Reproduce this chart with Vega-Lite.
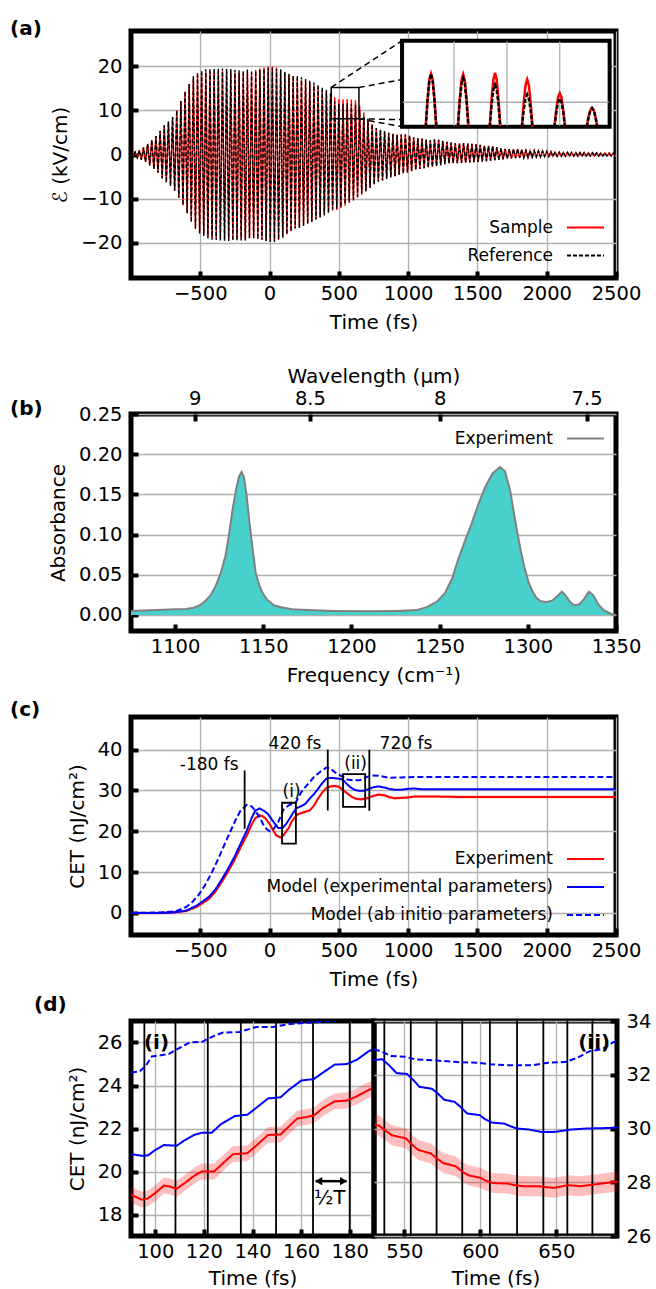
{
  "$schema": "https://vega.github.io/schema/vega-lite/v6.json",
  "padding": {"left": 7, "top": 16, "right": 2, "bottom": 2},
  "config": {
    "font": "DejaVu Sans",
    "view": {"stroke": "#000000", "strokeWidth": 5},
    "axis": {
      "domain": false, "grid": true, "gridColor": "#b0b0b0", "gridWidth": 1.3,
      "tickColor": "#000000", "tickSize": -7, "tickWidth": 4,
      "labelFontSize": 19.5, "labelColor": "#000000", "labelPadding": 16,
      "labelFlush": false, "labelOverlap": false,
      "titleFontSize": 20, "titleFontWeight": "normal", "titleColor": "#000000"
    },
    "axisX": {"titlePadding": 10, "labelPadding": 13},
    "axisY": {"titlePadding": 10, "labelPadding": 16},
    "legend": {
      "labelFontSize": 17, "labelColor": "#000000", "labelAlign": "right", "labelOffset": -52,
      "symbolType": "stroke", "symbolSize": 1369, "symbolStrokeWidth": 2, "padding": 0,
      "rowPadding": -3, "labelLimit": 0
    },
    "title": {"fontSize": 20, "fontWeight": "bold", "anchor": "start", "frame": "group", "color": "#000000", "offset": 0}
  },
  "datasets": {
    "sig": [
      {"t":-1000,"Sample":0.3,"Reference":0.3},{"t":-985,"Sample":-0.45,"Reference":-0.45},{"t":-970,"Sample":0.55,"Reference":0.55},{"t":-955,"Sample":-0.7,"Reference":-0.7},
      {"t":-940,"Sample":1.0,"Reference":1.0},{"t":-925,"Sample":-1.2,"Reference":-1.2},{"t":-910,"Sample":1.6,"Reference":1.6},{"t":-895,"Sample":-1.7,"Reference":-1.7},
      {"t":-880,"Sample":2.4,"Reference":2.4},{"t":-865,"Sample":-2.5,"Reference":-2.5},{"t":-850,"Sample":3.3,"Reference":3.3},{"t":-835,"Sample":-3.3,"Reference":-3.3},
      {"t":-820,"Sample":4.2,"Reference":4.2},{"t":-805,"Sample":-4.15,"Reference":-4.15},{"t":-790,"Sample":5.4,"Reference":5.4},{"t":-775,"Sample":-5.45,"Reference":-5.45},
      {"t":-760,"Sample":6.6,"Reference":6.6},{"t":-745,"Sample":-6.35,"Reference":-6.35},{"t":-730,"Sample":7.5,"Reference":7.5},{"t":-715,"Sample":-7.1,"Reference":-7.1},
      {"t":-700,"Sample":8.5,"Reference":8.5},{"t":-685,"Sample":-8.2,"Reference":-8.2},{"t":-670,"Sample":10.0,"Reference":10.0},{"t":-655,"Sample":-9.8,"Reference":-9.8},
      {"t":-640,"Sample":12.1,"Reference":12.1},{"t":-625,"Sample":-11.5,"Reference":-11.5},{"t":-610,"Sample":14.3,"Reference":14.3},{"t":-595,"Sample":-13.3,"Reference":-13.3},
      {"t":-580,"Sample":16.0,"Reference":16.0},{"t":-565,"Sample":-15.0,"Reference":-15.4},{"t":-550,"Sample":17.2,"Reference":17.8},{"t":-535,"Sample":-16.5,"Reference":-16.9},
      {"t":-520,"Sample":18.0,"Reference":18.6},{"t":-505,"Sample":-17.5,"Reference":-17.9},{"t":-490,"Sample":18.5,"Reference":19.1},{"t":-475,"Sample":-18.1,"Reference":-18.5},
      {"t":-460,"Sample":18.7,"Reference":19.3},{"t":-445,"Sample":-18.65,"Reference":-19.05},{"t":-430,"Sample":18.85,"Reference":19.45},{"t":-415,"Sample":-18.9,"Reference":-19.3},
      {"t":-400,"Sample":18.9,"Reference":19.5},{"t":-385,"Sample":-19.0,"Reference":-19.4},{"t":-370,"Sample":18.9,"Reference":19.5},{"t":-355,"Sample":-19.1,"Reference":-19.5},
      {"t":-340,"Sample":18.9,"Reference":19.5},{"t":-325,"Sample":-19.15,"Reference":-19.55},{"t":-310,"Sample":18.9,"Reference":19.5},{"t":-295,"Sample":-19.2,"Reference":-19.6},
      {"t":-280,"Sample":18.8,"Reference":19.4},{"t":-265,"Sample":-19.15,"Reference":-19.55},{"t":-250,"Sample":18.6,"Reference":19.2},{"t":-235,"Sample":-19.1,"Reference":-19.5},
      {"t":-220,"Sample":18.5,"Reference":19.1},{"t":-205,"Sample":-19.1,"Reference":-19.5},{"t":-190,"Sample":18.4,"Reference":19.0},{"t":-175,"Sample":-19.1,"Reference":-19.5},
      {"t":-160,"Sample":18.65,"Reference":19.25},{"t":-145,"Sample":-19.0,"Reference":-19.0},{"t":-130,"Sample":18.9,"Reference":18.6},{"t":-115,"Sample":-19.0,"Reference":-19.0},
      {"t":-100,"Sample":19.2,"Reference":18.9},{"t":-85,"Sample":-19.15,"Reference":-19.15},{"t":-70,"Sample":19.5,"Reference":19.2},{"t":-55,"Sample":-19.35,"Reference":-19.35},
      {"t":-40,"Sample":19.75,"Reference":19.45},{"t":-25,"Sample":-19.6,"Reference":-19.6},{"t":-10,"Sample":19.95,"Reference":19.65},{"t":5,"Sample":-19.8,"Reference":-19.8},
      {"t":20,"Sample":19.95,"Reference":19.65},{"t":35,"Sample":-19.8,"Reference":-19.8},{"t":50,"Sample":19.7,"Reference":19.4},{"t":65,"Sample":-19.3,"Reference":-19.3},
      {"t":80,"Sample":19.1,"Reference":19.3},{"t":95,"Sample":-18.8,"Reference":-18.8},{"t":110,"Sample":18.55,"Reference":18.75},{"t":125,"Sample":-18.1,"Reference":-18.1},
      {"t":140,"Sample":18.1,"Reference":18.3},{"t":155,"Sample":-17.4,"Reference":-17.4},{"t":170,"Sample":17.7,"Reference":17.9},{"t":185,"Sample":-16.8,"Reference":-16.8},
      {"t":200,"Sample":17.3,"Reference":17.9},{"t":215,"Sample":-16.45,"Reference":-16.65},{"t":230,"Sample":16.9,"Reference":17.5},{"t":245,"Sample":-16.0,"Reference":-16.2},
      {"t":260,"Sample":16.5,"Reference":17.1},{"t":275,"Sample":-15.6,"Reference":-15.8},{"t":290,"Sample":16.1,"Reference":16.7},{"t":305,"Sample":-15.1,"Reference":-15.3},
      {"t":320,"Sample":15.7,"Reference":16.3},{"t":335,"Sample":-14.6,"Reference":-14.8},{"t":350,"Sample":15.3,"Reference":15.9},{"t":365,"Sample":-14.1,"Reference":-14.3},
      {"t":380,"Sample":14.7,"Reference":15.3},{"t":395,"Sample":-13.6,"Reference":-13.8},{"t":410,"Sample":14.1,"Reference":14.7},{"t":425,"Sample":-13.1,"Reference":-13.3},
      {"t":440,"Sample":13.5,"Reference":14.1},{"t":455,"Sample":-12.7,"Reference":-12.4},{"t":470,"Sample":13.0,"Reference":12.0},{"t":485,"Sample":-12.6,"Reference":-12.3},
      {"t":500,"Sample":12.5,"Reference":11.5},{"t":515,"Sample":-12.2,"Reference":-11.9},{"t":530,"Sample":12.55,"Reference":11.5},{"t":545,"Sample":-11.6,"Reference":-11.3},
      {"t":560,"Sample":12.6,"Reference":11.6},{"t":575,"Sample":-11.0,"Reference":-10.7},{"t":590,"Sample":12.45,"Reference":11.4},{"t":605,"Sample":-10.5,"Reference":-10.2},
      {"t":620,"Sample":12.3,"Reference":11.3},{"t":635,"Sample":-9.8,"Reference":-9.5},{"t":650,"Sample":11.0,"Reference":10.0},{"t":665,"Sample":-9.1,"Reference":-8.8},
      {"t":680,"Sample":9.5,"Reference":8.5},{"t":695,"Sample":-8.3,"Reference":-8.3},{"t":710,"Sample":8.1,"Reference":8.1},{"t":725,"Sample":-7.6,"Reference":-7.6},
      {"t":740,"Sample":6.9,"Reference":6.9},{"t":755,"Sample":-6.8,"Reference":-6.8},{"t":770,"Sample":6.0,"Reference":6.0},{"t":785,"Sample":-6.2,"Reference":-6.2},
      {"t":800,"Sample":5.6,"Reference":5.6},{"t":815,"Sample":-5.9,"Reference":-5.9},{"t":830,"Sample":5.25,"Reference":5.25},{"t":845,"Sample":-5.55,"Reference":-5.55},
      {"t":860,"Sample":4.9,"Reference":4.9},{"t":875,"Sample":-5.2,"Reference":-5.2},{"t":890,"Sample":4.7,"Reference":4.7},{"t":905,"Sample":-4.9,"Reference":-4.9},
      {"t":920,"Sample":4.5,"Reference":4.5},{"t":935,"Sample":-4.6,"Reference":-4.6},{"t":950,"Sample":4.5,"Reference":4.5},{"t":965,"Sample":-4.3,"Reference":-4.3},
      {"t":980,"Sample":4.5,"Reference":4.5},{"t":995,"Sample":-4.05,"Reference":-4.05},{"t":1010,"Sample":4.3,"Reference":4.3},{"t":1025,"Sample":-3.8,"Reference":-3.8},
      {"t":1040,"Sample":3.9,"Reference":3.9},{"t":1055,"Sample":-3.5,"Reference":-3.5},{"t":1070,"Sample":3.7,"Reference":3.7},{"t":1085,"Sample":-3.3,"Reference":-3.3},
      {"t":1100,"Sample":3.6,"Reference":3.6},{"t":1115,"Sample":-3.1,"Reference":-3.1},{"t":1130,"Sample":3.4,"Reference":3.4},{"t":1145,"Sample":-2.95,"Reference":-2.95},
      {"t":1160,"Sample":3.25,"Reference":3.25},{"t":1175,"Sample":-2.8,"Reference":-2.8},{"t":1190,"Sample":3.45,"Reference":3.45},{"t":1205,"Sample":-2.65,"Reference":-2.65},
      {"t":1220,"Sample":3.35,"Reference":3.35},{"t":1235,"Sample":-2.4,"Reference":-2.4},{"t":1250,"Sample":3.1,"Reference":3.1},{"t":1265,"Sample":-2.2,"Reference":-2.2},
      {"t":1280,"Sample":2.9,"Reference":2.9},{"t":1295,"Sample":-2.0,"Reference":-2.0},{"t":1310,"Sample":2.7,"Reference":2.7},{"t":1325,"Sample":-2.0,"Reference":-2.0},
      {"t":1340,"Sample":2.55,"Reference":2.55},{"t":1355,"Sample":-1.95,"Reference":-1.95},{"t":1370,"Sample":2.55,"Reference":2.55},{"t":1385,"Sample":-1.9,"Reference":-1.9},
      {"t":1400,"Sample":2.6,"Reference":2.6},{"t":1415,"Sample":-1.9,"Reference":-1.9},{"t":1430,"Sample":2.5,"Reference":2.5},{"t":1445,"Sample":-1.8,"Reference":-1.8},
      {"t":1460,"Sample":2.4,"Reference":2.4},{"t":1475,"Sample":-1.75,"Reference":-1.75},{"t":1490,"Sample":2.3,"Reference":2.3},{"t":1505,"Sample":-1.7,"Reference":-1.7},
      {"t":1520,"Sample":2.2,"Reference":2.2},{"t":1535,"Sample":-1.6,"Reference":-1.6},{"t":1550,"Sample":2.0,"Reference":2.0},{"t":1565,"Sample":-1.5,"Reference":-1.5},
      {"t":1580,"Sample":1.95,"Reference":1.95},{"t":1595,"Sample":-1.4,"Reference":-1.4},{"t":1610,"Sample":1.9,"Reference":1.9},{"t":1625,"Sample":-1.3,"Reference":-1.3},
      {"t":1640,"Sample":1.7,"Reference":1.7},{"t":1655,"Sample":-1.2,"Reference":-1.2},{"t":1670,"Sample":1.4,"Reference":1.4},{"t":1685,"Sample":-1.1,"Reference":-1.1},
      {"t":1700,"Sample":1.27,"Reference":1.27},{"t":1715,"Sample":-0.95,"Reference":-0.95},{"t":1730,"Sample":1.23,"Reference":1.23},{"t":1745,"Sample":-0.9,"Reference":-0.9},
      {"t":1760,"Sample":1.22,"Reference":1.22},{"t":1775,"Sample":-0.8,"Reference":-0.8},{"t":1790,"Sample":1.28,"Reference":1.28},{"t":1805,"Sample":-0.75,"Reference":-0.75},
      {"t":1820,"Sample":1.15,"Reference":1.15},{"t":1835,"Sample":-0.7,"Reference":-0.7},{"t":1850,"Sample":0.9,"Reference":0.9},{"t":1865,"Sample":-0.67,"Reference":-0.67},
      {"t":1880,"Sample":0.9,"Reference":0.9},{"t":1895,"Sample":-0.6,"Reference":-0.6},{"t":1910,"Sample":0.88,"Reference":0.88},{"t":1925,"Sample":-0.55,"Reference":-0.55},
      {"t":1940,"Sample":0.82,"Reference":0.82},{"t":1955,"Sample":-0.5,"Reference":-0.5},{"t":1970,"Sample":0.77,"Reference":0.77},{"t":1985,"Sample":-0.45,"Reference":-0.45},
      {"t":2000,"Sample":0.7,"Reference":0.7},{"t":2015,"Sample":-0.43,"Reference":-0.43},{"t":2030,"Sample":0.65,"Reference":0.65},{"t":2045,"Sample":-0.42,"Reference":-0.42},
      {"t":2060,"Sample":0.58,"Reference":0.58},{"t":2075,"Sample":-0.41,"Reference":-0.41},{"t":2090,"Sample":0.52,"Reference":0.52},{"t":2105,"Sample":-0.4,"Reference":-0.4},
      {"t":2120,"Sample":0.49,"Reference":0.49},{"t":2135,"Sample":-0.38,"Reference":-0.38},{"t":2150,"Sample":0.48,"Reference":0.48},{"t":2165,"Sample":-0.37,"Reference":-0.37},
      {"t":2180,"Sample":0.46,"Reference":0.46},{"t":2195,"Sample":-0.35,"Reference":-0.35},{"t":2210,"Sample":0.45,"Reference":0.45},{"t":2225,"Sample":-0.35,"Reference":-0.35},
      {"t":2240,"Sample":0.43,"Reference":0.43},{"t":2255,"Sample":-0.34,"Reference":-0.34},{"t":2270,"Sample":0.42,"Reference":0.42},{"t":2285,"Sample":-0.33,"Reference":-0.33},
      {"t":2300,"Sample":0.4,"Reference":0.4},{"t":2315,"Sample":-0.33,"Reference":-0.33},{"t":2330,"Sample":0.39,"Reference":0.39},{"t":2345,"Sample":-0.32,"Reference":-0.32},
      {"t":2360,"Sample":0.37,"Reference":0.37},{"t":2375,"Sample":-0.32,"Reference":-0.32},{"t":2390,"Sample":0.35,"Reference":0.35},{"t":2405,"Sample":-0.31,"Reference":-0.31},
      {"t":2420,"Sample":0.34,"Reference":0.34},{"t":2435,"Sample":-0.31,"Reference":-0.31},{"t":2450,"Sample":0.32,"Reference":0.32},{"t":2465,"Sample":-0.3,"Reference":-0.3},
      {"t":2480,"Sample":0.31,"Reference":0.31},{"t":2495,"Sample":-0.3,"Reference":-0.3}
    ],
    "ins": [
      {"p":1,"t":1127,"Sample":6.3,"Reference":6.3},{"p":1,"t":1140,"Sample":12.4,"Reference":12.4},{"p":1,"t":1153,"Sample":16.9,"Reference":16.9},{"p":1,"t":1165,"Sample":18.3,"Reference":18.3},{"p":1,"t":1177,"Sample":16.9,"Reference":16.9},{"p":1,"t":1190,"Sample":12.4,"Reference":12.4},{"p":1,"t":1203,"Sample":6.3,"Reference":6.3},
      {"p":2,"t":1359,"Sample":6.3,"Reference":6.3},{"p":2,"t":1372,"Sample":12.4,"Reference":11.9},{"p":2,"t":1385,"Sample":16.8,"Reference":16.0},{"p":2,"t":1397,"Sample":18.2,"Reference":17.3},{"p":2,"t":1409,"Sample":16.8,"Reference":16.0},{"p":2,"t":1422,"Sample":12.4,"Reference":11.9},{"p":2,"t":1435,"Sample":6.3,"Reference":6.3},
      {"p":3,"t":1589,"Sample":6.3,"Reference":6.3},{"p":3,"t":1602,"Sample":12.5,"Reference":11.2},{"p":3,"t":1615,"Sample":17.0,"Reference":14.7},{"p":3,"t":1627,"Sample":18.5,"Reference":15.8},{"p":3,"t":1639,"Sample":17.0,"Reference":14.7},{"p":3,"t":1652,"Sample":12.5,"Reference":11.2},{"p":3,"t":1665,"Sample":6.3,"Reference":6.3},
      {"p":4,"t":1821,"Sample":6.3,"Reference":6.3},{"p":4,"t":1834,"Sample":11.8,"Reference":10.0},{"p":4,"t":1847,"Sample":15.7,"Reference":12.7},{"p":4,"t":1859,"Sample":17.0,"Reference":13.6},{"p":4,"t":1871,"Sample":15.7,"Reference":12.7},{"p":4,"t":1884,"Sample":11.8,"Reference":10.0},{"p":4,"t":1897,"Sample":6.3,"Reference":6.3},
      {"p":5,"t":2056,"Sample":6.3,"Reference":6.3},{"p":5,"t":2069,"Sample":10.2,"Reference":9.6},{"p":5,"t":2082,"Sample":13.0,"Reference":11.9},{"p":5,"t":2094,"Sample":13.9,"Reference":12.7},{"p":5,"t":2106,"Sample":13.0,"Reference":11.9},{"p":5,"t":2119,"Sample":10.2,"Reference":9.6},{"p":5,"t":2132,"Sample":6.3,"Reference":6.3},
      {"p":6,"t":2289,"Sample":6.3,"Reference":6.3},{"p":6,"t":2302,"Sample":8.5,"Reference":8.5},{"p":6,"t":2315,"Sample":10.1,"Reference":10.0},{"p":6,"t":2327,"Sample":10.6,"Reference":10.5},{"p":6,"t":2339,"Sample":10.1,"Reference":10.0},{"p":6,"t":2352,"Sample":8.5,"Reference":8.5},{"p":6,"t":2365,"Sample":6.3,"Reference":6.3}
    ],
    "absb": [
      {"f":1075,"a":0.005},{"f":1090,"a":0.006},{"f":1100,"a":0.007},{"f":1106,"a":0.0075},{"f":1110.6,"a":0.009},{"f":1114,"a":0.012},{"f":1117,"a":0.017},{"f":1120,"a":0.024},
      {"f":1123,"a":0.036},{"f":1125.9,"a":0.052},{"f":1128.5,"a":0.073},{"f":1130.6,"a":0.1},{"f":1132.5,"a":0.13},{"f":1134.5,"a":0.155},{"f":1136.2,"a":0.172},{"f":1137.7,"a":0.178},
      {"f":1139,"a":0.172},{"f":1140.5,"a":0.15},{"f":1142,"a":0.118},{"f":1143.8,"a":0.085},{"f":1145.7,"a":0.052},{"f":1148,"a":0.035},{"f":1150,"a":0.026},{"f":1152.2,"a":0.019},
      {"f":1156,"a":0.012},{"f":1160,"a":0.0095},{"f":1166.3,"a":0.007},{"f":1175,"a":0.006},{"f":1190,"a":0.005},{"f":1210,"a":0.0045},{"f":1225,"a":0.005},{"f":1232,"a":0.0055},
      {"f":1237,"a":0.006},{"f":1243,"a":0.01},{"f":1248.7,"a":0.017},{"f":1253,"a":0.027},{"f":1257,"a":0.045},{"f":1260.5,"a":0.069},{"f":1264,"a":0.09},{"f":1268,"a":0.113},
      {"f":1272.2,"a":0.139},{"f":1276,"a":0.16},{"f":1280,"a":0.176},{"f":1284.2,"a":0.184},{"f":1287,"a":0.179},{"f":1290,"a":0.155},{"f":1293.4,"a":0.11},{"f":1296,"a":0.08},
      {"f":1298,"a":0.06},{"f":1300.5,"a":0.04},{"f":1303,"a":0.028},{"f":1305,"a":0.021},{"f":1307.5,"a":0.017},{"f":1311,"a":0.016},{"f":1314,"a":0.018},{"f":1317,"a":0.024},
      {"f":1319.3,"a":0.029},{"f":1321.5,"a":0.024},{"f":1324,"a":0.016},{"f":1326.3,"a":0.012},{"f":1329,"a":0.013},{"f":1332,"a":0.02},{"f":1334.6,"a":0.029},{"f":1337,"a":0.025},
      {"f":1340,"a":0.013},{"f":1343,"a":0.006},{"f":1347.5,"a":0.001},{"f":1350,"a":0.0}
    ],
    "cet": [
      {"s":"exp","t":-1000,"v":0,"lo":-0.35,"hi":0.35},{"s":"exp","t":-800,"v":0,"lo":-0.35,"hi":0.35},{"s":"exp","t":-700,"v":0.1,"lo":-0.25,"hi":0.45},{"s":"exp","t":-600,"v":0.5,"lo":0.15,"hi":0.85},
      {"s":"exp","t":-526,"v":1.5,"lo":1.15,"hi":1.85},{"s":"exp","t":-480,"v":2.5,"lo":2.15,"hi":2.85},{"s":"exp","t":-436,"v":3.5,"lo":3.15,"hi":3.85},{"s":"exp","t":-390,"v":5.3,"lo":4.95,"hi":5.65},
      {"s":"exp","t":-345,"v":7.6,"lo":7.25,"hi":7.95},{"s":"exp","t":-300,"v":10.1,"lo":9.75,"hi":10.45},{"s":"exp","t":-254,"v":12.9,"lo":12.55,"hi":13.25},{"s":"exp","t":-210,"v":16.0,"lo":15.65,"hi":16.35},
      {"s":"exp","t":-164,"v":19.0,"lo":18.65,"hi":19.35},{"s":"exp","t":-130,"v":21.6,"lo":21.25,"hi":21.95},{"s":"exp","t":-104,"v":23.2,"lo":22.85,"hi":23.55},{"s":"exp","t":-73,"v":23.9,"lo":23.55,"hi":24.25},
      {"s":"exp","t":-50,"v":23.7,"lo":23.35,"hi":24.05},{"s":"exp","t":-28,"v":23.1,"lo":22.75,"hi":23.45},{"s":"exp","t":0,"v":21.8,"lo":21.45,"hi":22.15},{"s":"exp","t":20,"v":20.6,"lo":20.25,"hi":20.95},
      {"s":"exp","t":48,"v":19.0,"lo":18.65,"hi":19.35},{"s":"exp","t":78,"v":18.5,"lo":18.15,"hi":18.85},{"s":"exp","t":100,"v":19.0,"lo":18.65,"hi":19.35},{"s":"exp","t":120,"v":20.0,"lo":19.65,"hi":20.35},
      {"s":"exp","t":140,"v":20.9,"lo":20.55,"hi":21.25},{"s":"exp","t":160,"v":22.4,"lo":22.05,"hi":22.75},{"s":"exp","t":180,"v":23.3,"lo":22.95,"hi":23.65},{"s":"exp","t":199,"v":24.1,"lo":23.75,"hi":24.45},
      {"s":"exp","t":240,"v":24.6,"lo":24.25,"hi":24.95},{"s":"exp","t":289,"v":25.1,"lo":24.75,"hi":25.45},{"s":"exp","t":320,"v":26.3,"lo":25.95,"hi":26.65},{"s":"exp","t":350,"v":28.0,"lo":27.65,"hi":28.35},
      {"s":"exp","t":380,"v":29.5,"lo":29.15,"hi":29.85},{"s":"exp","t":410,"v":30.6,"lo":30.25,"hi":30.95},{"s":"exp","t":440,"v":31.0,"lo":30.65,"hi":31.35},{"s":"exp","t":470,"v":31.1,"lo":30.75,"hi":31.45},
      {"s":"exp","t":500,"v":30.9,"lo":30.55,"hi":31.25},{"s":"exp","t":531,"v":30.1,"lo":29.75,"hi":30.45},{"s":"exp","t":560,"v":29.3,"lo":28.95,"hi":29.65},{"s":"exp","t":591,"v":28.5,"lo":28.15,"hi":28.85},
      {"s":"exp","t":620,"v":28.0,"lo":27.65,"hi":28.35},{"s":"exp","t":651,"v":27.85,"lo":27.5,"hi":28.2},{"s":"exp","t":680,"v":27.9,"lo":27.55,"hi":28.25},{"s":"exp","t":712,"v":28.2,"lo":27.85,"hi":28.55},
      {"s":"exp","t":750,"v":28.7,"lo":28.35,"hi":29.05},{"s":"exp","t":787,"v":29.0,"lo":28.65,"hi":29.35},{"s":"exp","t":830,"v":28.8,"lo":28.45,"hi":29.15},{"s":"exp","t":863,"v":28.4,"lo":28.05,"hi":28.75},
      {"s":"exp","t":900,"v":28.1,"lo":27.75,"hi":28.45},{"s":"exp","t":953,"v":28.2,"lo":27.85,"hi":28.55},{"s":"exp","t":1000,"v":28.3,"lo":27.95,"hi":28.65},{"s":"exp","t":1044,"v":28.5,"lo":28.15,"hi":28.85},
      {"s":"exp","t":1100,"v":28.5,"lo":28.15,"hi":28.85},{"s":"exp","t":1225,"v":28.5,"lo":28.15,"hi":28.85},{"s":"exp","t":1400,"v":28.4,"lo":28.05,"hi":28.75},{"s":"exp","t":1800,"v":28.4,"lo":28.05,"hi":28.75},
      {"s":"exp","t":2200,"v":28.4,"lo":28.05,"hi":28.75},{"s":"exp","t":2500,"v":28.4,"lo":28.05,"hi":28.75},
      {"s":"mexp","t":-1000,"v":0},{"s":"mexp","t":-800,"v":0},{"s":"mexp","t":-700,"v":0.1},{"s":"mexp","t":-600,"v":0.6},{"s":"mexp","t":-526,"v":1.8},{"s":"mexp","t":-480,"v":2.9},
      {"s":"mexp","t":-436,"v":4.0},{"s":"mexp","t":-390,"v":5.8},{"s":"mexp","t":-345,"v":8.2},{"s":"mexp","t":-300,"v":10.8},{"s":"mexp","t":-254,"v":13.7},{"s":"mexp","t":-210,"v":16.9},
      {"s":"mexp","t":-164,"v":20.2},{"s":"mexp","t":-130,"v":23.2},{"s":"mexp","t":-104,"v":25.0},{"s":"mexp","t":-73,"v":25.6},{"s":"mexp","t":-40,"v":25.0},{"s":"mexp","t":-13,"v":24.3},
      {"s":"mexp","t":20,"v":22.7},{"s":"mexp","t":63,"v":20.8},{"s":"mexp","t":93,"v":20.8},{"s":"mexp","t":120,"v":21.8},{"s":"mexp","t":150,"v":23.4},{"s":"mexp","t":190,"v":25.6},
      {"s":"mexp","t":230,"v":26.2},{"s":"mexp","t":260,"v":26.8},{"s":"mexp","t":289,"v":28.0},{"s":"mexp","t":320,"v":29.1},{"s":"mexp","t":350,"v":30.4},{"s":"mexp","t":380,"v":31.8},
      {"s":"mexp","t":410,"v":32.9},{"s":"mexp","t":440,"v":33.1},{"s":"mexp","t":470,"v":33.0},{"s":"mexp","t":500,"v":32.9},{"s":"mexp","t":531,"v":32.6},{"s":"mexp","t":560,"v":31.5},
      {"s":"mexp","t":591,"v":30.6},{"s":"mexp","t":620,"v":30.1},{"s":"mexp","t":651,"v":29.9},{"s":"mexp","t":690,"v":30.0},{"s":"mexp","t":720,"v":30.4},{"s":"mexp","t":750,"v":30.8},
      {"s":"mexp","t":787,"v":31.0},{"s":"mexp","t":830,"v":30.7},{"s":"mexp","t":863,"v":30.4},{"s":"mexp","t":900,"v":30.2},{"s":"mexp","t":953,"v":30.2},{"s":"mexp","t":1000,"v":30.4},
      {"s":"mexp","t":1044,"v":30.5},{"s":"mexp","t":1100,"v":30.3},{"s":"mexp","t":1225,"v":30.3},{"s":"mexp","t":1500,"v":30.3},{"s":"mexp","t":2000,"v":30.3},{"s":"mexp","t":2500,"v":30.3},
      {"s":"mab","t":-1000,"v":0},{"s":"mab","t":-800,"v":0.1},{"s":"mab","t":-677,"v":0.4},{"s":"mab","t":-600,"v":1.5},{"s":"mab","t":-557,"v":2.7},{"s":"mab","t":-510,"v":4.5},
      {"s":"mab","t":-466,"v":6.8},{"s":"mab","t":-420,"v":9.7},{"s":"mab","t":-375,"v":12.9},{"s":"mab","t":-330,"v":16.4},{"s":"mab","t":-285,"v":19.8},{"s":"mab","t":-245,"v":22.8},
      {"s":"mab","t":-209,"v":25.1},{"s":"mab","t":-164,"v":26.5},{"s":"mab","t":-130,"v":26.1},{"s":"mab","t":-104,"v":25.1},{"s":"mab","t":-70,"v":23.3},{"s":"mab","t":-43,"v":21.5},
      {"s":"mab","t":-20,"v":20.5},{"s":"mab","t":2,"v":20.0},{"s":"mab","t":30,"v":20.6},{"s":"mab","t":63,"v":22.3},{"s":"mab","t":100,"v":25.3},{"s":"mab","t":140,"v":26.4},
      {"s":"mab","t":190,"v":27.1},{"s":"mab","t":229,"v":29.6},{"s":"mab","t":270,"v":31.3},{"s":"mab","t":320,"v":33.3},{"s":"mab","t":370,"v":34.7},{"s":"mab","t":410,"v":35.6},
      {"s":"mab","t":440,"v":35.4},{"s":"mab","t":470,"v":34.5},{"s":"mab","t":510,"v":33.7},{"s":"mab","t":561,"v":32.7},{"s":"mab","t":600,"v":32.5},{"s":"mab","t":651,"v":32.5},
      {"s":"mab","t":690,"v":33.2},{"s":"mab","t":742,"v":33.7},{"s":"mab","t":790,"v":33.6},{"s":"mab","t":863,"v":33.1},{"s":"mab","t":950,"v":33.2},{"s":"mab","t":1074,"v":33.3},
      {"s":"mab","t":1300,"v":33.3},{"s":"mab","t":2000,"v":33.3},{"s":"mab","t":2500,"v":33.3}
    ],
    "dl": [
      {"s":"exp","t":90,"v":18.92,"lo":18.55,"hi":19.29},{"s":"exp","t":94.4,"v":18.69,"lo":18.32,"hi":19.06},{"s":"exp","t":97,"v":18.75,"lo":18.38,"hi":19.12},{"s":"exp","t":100,"v":19.0,"lo":18.63,"hi":19.37},
      {"s":"exp","t":103.6,"v":19.35,"lo":18.98,"hi":19.72},{"s":"exp","t":106,"v":19.3,"lo":18.93,"hi":19.67},{"s":"exp","t":108.8,"v":19.2,"lo":18.83,"hi":19.57},{"s":"exp","t":112,"v":19.45,"lo":19.08,"hi":19.82},
      {"s":"exp","t":116,"v":19.8,"lo":19.43,"hi":20.17},{"s":"exp","t":119,"v":20.0,"lo":19.63,"hi":20.37},{"s":"exp","t":124.2,"v":20.0,"lo":19.63,"hi":20.37},{"s":"exp","t":128,"v":20.4,"lo":20.03,"hi":20.77},
      {"s":"exp","t":131.9,"v":20.8,"lo":20.43,"hi":21.17},{"s":"exp","t":137.9,"v":20.85,"lo":20.48,"hi":21.22},{"s":"exp","t":142,"v":21.25,"lo":20.88,"hi":21.62},{"s":"exp","t":146.4,"v":21.7,"lo":21.33,"hi":22.07},
      {"s":"exp","t":151.5,"v":21.72,"lo":21.35,"hi":22.09},{"s":"exp","t":155,"v":22.1,"lo":21.73,"hi":22.47},{"s":"exp","t":158.4,"v":22.46,"lo":22.09,"hi":22.83},{"s":"exp","t":165.2,"v":22.6,"lo":22.23,"hi":22.97},
      {"s":"exp","t":169,"v":22.95,"lo":22.58,"hi":23.32},{"s":"exp","t":173.8,"v":23.26,"lo":22.89,"hi":23.63},{"s":"exp","t":178.9,"v":23.3,"lo":22.93,"hi":23.67},{"s":"exp","t":183,"v":23.5,"lo":23.13,"hi":23.87},
      {"s":"exp","t":187.4,"v":23.77,"lo":23.4,"hi":24.14},{"s":"exp","t":190,"v":23.9,"lo":23.53,"hi":24.27},
      {"s":"mexp","t":90,"v":20.81},{"s":"mexp","t":94.4,"v":20.73},{"s":"mexp","t":97,"v":20.75},{"s":"mexp","t":100,"v":21.0},{"s":"mexp","t":103.6,"v":21.23},{"s":"mexp","t":108.8,"v":21.2},
      {"s":"mexp","t":112,"v":21.45},{"s":"mexp","t":116,"v":21.7},{"s":"mexp","t":119,"v":21.8},{"s":"mexp","t":123.2,"v":21.8},{"s":"mexp","t":127,"v":22.2},{"s":"mexp","t":132.7,"v":22.58},
      {"s":"mexp","t":137.9,"v":22.64},{"s":"mexp","t":142,"v":23.0},{"s":"mexp","t":146.4,"v":23.4},{"s":"mexp","t":151.5,"v":23.45},{"s":"mexp","t":155,"v":23.8},{"s":"mexp","t":160.1,"v":24.23},
      {"s":"mexp","t":165.2,"v":24.3},{"s":"mexp","t":169,"v":24.6},{"s":"mexp","t":173.8,"v":24.97},{"s":"mexp","t":178.9,"v":25.0},{"s":"mexp","t":183,"v":25.2},{"s":"mexp","t":187.9,"v":25.6},
      {"s":"mexp","t":190,"v":25.7},
      {"s":"mab","t":90,"v":24.6},{"s":"mab","t":93.5,"v":24.65},{"s":"mab","t":96,"v":24.9},{"s":"mab","t":98.6,"v":25.35},{"s":"mab","t":105.5,"v":25.46},{"s":"mab","t":110,"v":25.75},
      {"s":"mab","t":114.1,"v":26.0},{"s":"mab","t":119.3,"v":26.03},{"s":"mab","t":124,"v":26.3},{"s":"mab","t":127.8,"v":26.46},{"s":"mab","t":134.7,"v":26.49},{"s":"mab","t":141.5,"v":26.72},
      {"s":"mab","t":148.4,"v":26.72},{"s":"mab","t":155.3,"v":26.86},{"s":"mab","t":165.6,"v":26.94},{"s":"mab","t":172.4,"v":27.0},{"s":"mab","t":180,"v":27.1},{"s":"mab","t":190,"v":27.2}
    ],
    "dr": [
      {"s":"exp","t":530.6,"v":30.15,"lo":29.78,"hi":30.52},{"s":"exp","t":533.4,"v":30.1,"lo":29.73,"hi":30.47},{"s":"exp","t":537,"v":29.95,"lo":29.58,"hi":30.32},{"s":"exp","t":541.6,"v":29.75,"lo":29.38,"hi":30.12},
      {"s":"exp","t":551.1,"v":29.63,"lo":29.26,"hi":30.0},{"s":"exp","t":555,"v":29.4,"lo":29.03,"hi":29.77},{"s":"exp","t":559.3,"v":29.2,"lo":28.83,"hi":29.57},{"s":"exp","t":567.5,"v":29.07,"lo":28.7,"hi":29.44},
      {"s":"exp","t":571,"v":28.9,"lo":28.53,"hi":29.27},{"s":"exp","t":575.7,"v":28.71,"lo":28.34,"hi":29.08},{"s":"exp","t":583.9,"v":28.59,"lo":28.22,"hi":28.96},{"s":"exp","t":588,"v":28.4,"lo":28.03,"hi":28.77},
      {"s":"exp","t":592.1,"v":28.26,"lo":27.89,"hi":28.63},{"s":"exp","t":600.3,"v":28.16,"lo":27.79,"hi":28.53},{"s":"exp","t":604,"v":28.05,"lo":27.68,"hi":28.42},{"s":"exp","t":608.5,"v":27.97,"lo":27.6,"hi":28.34},
      {"s":"exp","t":618,"v":27.95,"lo":27.58,"hi":28.32},{"s":"exp","t":622,"v":27.9,"lo":27.53,"hi":28.27},{"s":"exp","t":627.6,"v":27.85,"lo":27.48,"hi":28.22},{"s":"exp","t":638.5,"v":27.85,"lo":27.48,"hi":28.22},
      {"s":"exp","t":648.1,"v":27.79,"lo":27.42,"hi":28.16},{"s":"exp","t":657.7,"v":27.89,"lo":27.52,"hi":28.26},{"s":"exp","t":665.9,"v":27.85,"lo":27.48,"hi":28.22},{"s":"exp","t":676.8,"v":27.93,"lo":27.56,"hi":28.3},
      {"s":"exp","t":686.4,"v":28.0,"lo":27.63,"hi":28.37},{"s":"exp","t":690,"v":28.02,"lo":27.65,"hi":28.39},
      {"s":"mexp","t":530,"v":32.54},{"s":"mexp","t":535.3,"v":32.58},{"s":"mexp","t":540,"v":32.35},{"s":"mexp","t":544.9,"v":32.06},{"s":"mexp","t":551.7,"v":32.03},{"s":"mexp","t":556,"v":31.8},
      {"s":"mexp","t":559.9,"v":31.55},{"s":"mexp","t":568.1,"v":31.48},{"s":"mexp","t":572,"v":31.3},{"s":"mexp","t":576.3,"v":31.07},{"s":"mexp","t":583.1,"v":30.99},{"s":"mexp","t":587,"v":30.8},
      {"s":"mexp","t":591.3,"v":30.56},{"s":"mexp","t":599.5,"v":30.5},{"s":"mexp","t":603,"v":30.35},{"s":"mexp","t":607.7,"v":30.22},{"s":"mexp","t":615.9,"v":30.18},{"s":"mexp","t":620,"v":30.08},
      {"s":"mexp","t":624.1,"v":30.0},{"s":"mexp","t":632.2,"v":29.96},{"s":"mexp","t":640.4,"v":29.87},{"s":"mexp","t":648.6,"v":29.87},{"s":"mexp","t":659.5,"v":29.96},{"s":"mexp","t":670.5,"v":30.0},
      {"s":"mexp","t":685.5,"v":30.02},{"s":"mexp","t":690,"v":30.05},
      {"s":"mab","t":530,"v":32.95},{"s":"mab","t":535.5,"v":32.85},{"s":"mab","t":541,"v":32.7},{"s":"mab","t":550.5,"v":32.67},{"s":"mab","t":557.4,"v":32.57},{"s":"mab","t":571,"v":32.53},
      {"s":"mab","t":584.8,"v":32.47},{"s":"mab","t":598.4,"v":32.45},{"s":"mab","t":606.6,"v":32.39},{"s":"mab","t":620.3,"v":32.35},{"s":"mab","t":633.9,"v":32.35},{"s":"mab","t":644.8,"v":32.45},
      {"s":"mab","t":655.7,"v":32.47},{"s":"mab","t":663.9,"v":32.63},{"s":"mab","t":672.2,"v":32.88},{"s":"mab","t":680.3,"v":32.95},{"s":"mab","t":687.2,"v":33.2},{"s":"mab","t":690,"v":33.25}
    ]
  },
  "spacing": 136,
  "bounds": "flush",
  "resolve": {"scale": {"color": "independent", "strokeDash": "independent"}, "legend": {"color": "independent", "strokeDash": "independent"}},
  "vconcat": [
    {
      "width": 485, "height": 247,
      "title": {"text": "(a)", "dx": -121, "dy": 12},
      "layer": [
        {
          "data": {"name": "sig"},
          "transform": [{"fold": ["Sample", "Reference"], "as": ["series", "E"]}],
          "mark": {"type": "line", "strokeWidth": 1.4},
          "encoding": {
            "x": {"field": "t", "type": "quantitative", "scale": {"domain": [-1000, 2500], "nice": false, "zero": false}, "axis": {"values": [-500, 0, 500, 1000, 1500, 2000, 2500], "format": "d", "title": "Time (fs)"}},
            "y": {"field": "E", "type": "quantitative", "scale": {"domain": [-28, 28], "nice": false}, "axis": {"values": [-20, -10, 0, 10, 20], "format": "d", "title": "ℰ (kV/cm)"}},
            "color": {"field": "series", "type": "nominal", "scale": {"domain": ["Sample", "Reference"], "range": ["#ff0000", "#000000"]}, "legend": {"title": null, "orient": "none", "legendX": 435, "legendY": 177}},
            "strokeDash": {"field": "series", "type": "nominal", "scale": {"domain": ["Sample", "Reference"], "range": [[1, 0], [4, 2]]}, "legend": {"title": null, "orient": "none", "legendX": 435, "legendY": 177}}
          }
        },
        {
          "data": {"values": [{"x1": 445, "x2": 645, "y1": 8.1, "y2": 15.2}]},
          "mark": {"type": "rect", "fillOpacity": 0, "stroke": "#000000", "strokeWidth": 1.5},
          "encoding": {
            "x": {"field": "x1", "type": "quantitative"}, "x2": {"field": "x2"},
            "y": {"field": "y1", "type": "quantitative"}, "y2": {"field": "y2"}
          }
        },
        {
          "data": {"values": [
            {"seg": 1, "t": 445, "y": 15.2}, {"seg": 1, "t": 956, "y": 25.8},
            {"seg": 2, "t": 645, "y": 15.2}, {"seg": 2, "t": 956, "y": 17.0},
            {"seg": 3, "t": 645, "y": 8.1}, {"seg": 3, "t": 956, "y": 7.9},
            {"seg": 4, "t": 645, "y": 8.1}, {"seg": 4, "t": 956, "y": 6.3}
          ]},
          "mark": {"type": "line", "color": "#000000", "strokeWidth": 1.5, "strokeDash": [6, 4]},
          "encoding": {
            "x": {"field": "t", "type": "quantitative"},
            "y": {"field": "y", "type": "quantitative"},
            "detail": {"field": "seg", "type": "nominal"}
          }
        },
        {
          "data": {"values": [{"x1": 956, "x2": 2454, "y1": 6.3, "y2": 25.8}]},
          "mark": {"type": "rect", "fill": "#ffffff", "stroke": "#000000", "strokeWidth": 4},
          "encoding": {
            "x": {"field": "x1", "type": "quantitative"}, "x2": {"field": "x2"},
            "y": {"field": "y1", "type": "quantitative"}, "y2": {"field": "y2"}
          }
        },
        {
          "data": {"values": [
            {"x1": 1331, "x2": 1331, "y1": 6.5, "y2": 25.6},
            {"x1": 1713, "x2": 1713, "y1": 6.5, "y2": 25.6},
            {"x1": 2094, "x2": 2094, "y1": 6.5, "y2": 25.6},
            {"x1": 962, "x2": 2448, "y1": 11.85, "y2": 11.85}
          ]},
          "mark": {"type": "rule", "color": "#b0b0b0", "strokeWidth": 1.3},
          "encoding": {
            "x": {"field": "x1", "type": "quantitative"}, "x2": {"field": "x2"},
            "y": {"field": "y1", "type": "quantitative"}, "y2": {"field": "y2"}
          }
        },
        {
          "data": {"name": "ins"},
          "transform": [{"fold": ["Sample", "Reference"], "as": ["series", "E"]}],
          "mark": {"type": "line", "strokeWidth": 2.5},
          "encoding": {
            "x": {"field": "t", "type": "quantitative"},
            "y": {"field": "E", "type": "quantitative"},
            "detail": {"field": "p", "type": "nominal"},
            "color": {"field": "series", "type": "nominal", "legend": {"title": null, "orient": "none", "legendX": 435, "legendY": 177}},
            "strokeDash": {"field": "series", "type": "nominal", "legend": {"title": null, "orient": "none", "legendX": 435, "legendY": 177}}
          }
        }
      ]
    },
    {
      "spacing": 86,
      "bounds": "flush",
      "resolve": {"scale": {"color": "independent", "strokeDash": "independent"}, "legend": {"color": "independent", "strokeDash": "independent"}},
      "vconcat": [
        {
          "width": 485, "height": 217,
          "title": {"text": "(b)", "dx": -121, "dy": 57},
          "data": {"name": "absb"},
          "layer": [
            {
              "mark": {"type": "area", "color": "#48d1cc", "opacity": 1},
              "encoding": {
                "x": {"field": "f", "type": "quantitative", "scale": {"domain": [1075, 1350], "nice": false, "zero": false},
                      "axis": {"orient": "top", "values": [1111.111, 1176.471, 1250, 1333.333], "grid": false, "title": "Wavelength (µm)", "titlePadding": 2,
                               "labelExpr": "datum.value < 1140 ? '9' : datum.value < 1200 ? '8.5' : datum.value < 1300 ? '8' : '7.5'"}},
                "y": {"field": "a", "type": "quantitative", "scale": {"domain": [-0.02, 0.25], "nice": false}, "axis": {"values": [0, 0.05, 0.1, 0.15, 0.2, 0.25], "format": ".2f", "title": "Absorbance"}}
              }
            },
            {
              "mark": {"type": "line", "strokeWidth": 2},
              "encoding": {
                "x": {"field": "f", "type": "quantitative", "axis": {"values": [1100, 1150, 1200, 1250, 1300, 1350], "format": "d", "title": "Frequency (cm⁻¹)"}},
                "y": {"field": "a", "type": "quantitative"},
                "color": {"datum": "Experiment", "type": "nominal", "scale": {"domain": ["Experiment"], "range": ["#808080"]}, "legend": {"title": null, "orient": "none", "legendX": 435, "legendY": 5}}
              }
            }
          ],
          "resolve": {"axis": {"x": "independent"}}
        },
        {
          "width": 485, "height": 218,
          "title": {"text": "(c)", "dx": -121, "dy": 7},
          "layer": [
            {
              "data": {"name": "cet"},
              "transform": [{"filter": "datum.s === 'exp'"}],
              "mark": {"type": "area", "color": "#ff0000", "opacity": 0.25},
              "encoding": {
                "x": {"field": "t", "type": "quantitative", "scale": {"domain": [-1000, 2500], "nice": false, "zero": false}, "axis": {"values": [-500, 0, 500, 1000, 1500, 2000, 2500], "format": "d", "title": "Time (fs)"}},
                "y": {"field": "lo", "type": "quantitative", "scale": {"domain": [-5.4, 48], "nice": false}, "axis": {"values": [0, 10, 20, 30, 40], "format": "d", "title": "CET (nJ/cm²)"}},
                "y2": {"field": "hi"}
              }
            },
            {
              "data": {"name": "cet"},
              "mark": {"type": "line", "strokeWidth": 2},
              "encoding": {
                "x": {"field": "t", "type": "quantitative"},
                "y": {"field": "v", "type": "quantitative"},
                "color": {"field": "s", "type": "nominal", "scale": {"domain": ["exp", "mexp", "mab"], "range": ["#ff0000", "#0000ff", "#0000ff"]},
                          "legend": {"title": null, "orient": "none", "legendX": 435, "legendY": 122.5, "rowPadding": -4.5,
                                     "labelExpr": "datum.label === 'exp' ? 'Experiment' : datum.label === 'mexp' ? 'Model (experimental parameters)' : 'Model (ab initio parameters)'"}},
                "strokeDash": {"field": "s", "type": "nominal", "scale": {"domain": ["exp", "mexp", "mab"], "range": [[1, 0], [1, 0], [6, 3]]},
                          "legend": {"title": null, "orient": "none", "legendX": 435, "legendY": 122.5, "rowPadding": -4.5,
                                     "labelExpr": "datum.label === 'exp' ? 'Experiment' : datum.label === 'mexp' ? 'Model (experimental parameters)' : 'Model (ab initio parameters)'"}}
              }
            },
            {
              "data": {"values": [{"t": -180, "y1": 20.6, "y2": 34.9}, {"t": 420, "y1": 25.1, "y2": 40}, {"t": 720, "y1": 25, "y2": 40}]},
              "mark": {"type": "rule", "color": "#000000", "strokeWidth": 1.8},
              "encoding": {
                "x": {"field": "t", "type": "quantitative"},
                "y": {"field": "y1", "type": "quantitative"}, "y2": {"field": "y2"}
              }
            },
            {
              "data": {"values": [{"x1": 90, "x2": 190, "y1": 17, "y2": 27}, {"x1": 530, "x2": 690, "y1": 26, "y2": 34}]},
              "mark": {"type": "rect", "fillOpacity": 0, "stroke": "#000000", "strokeWidth": 1.8},
              "encoding": {
                "x": {"field": "x1", "type": "quantitative"}, "x2": {"field": "x2"},
                "y": {"field": "y1", "type": "quantitative"}, "y2": {"field": "y2"}
              }
            },
            {
              "data": {"values": [
                {"t": -436, "y": 36.3, "label": "-180 fs"}, {"t": 183, "y": 41.5, "label": "420 fs"},
                {"t": 984, "y": 41.5, "label": "720 fs"}, {"t": 159, "y": 29.6, "label": "(i)"}, {"t": 621, "y": 36.6, "label": "(ii)"}
              ]},
              "mark": {"type": "text", "fontSize": 17, "color": "#000000", "align": "center", "baseline": "middle"},
              "encoding": {
                "x": {"field": "t", "type": "quantitative"},
                "y": {"field": "y", "type": "quantitative"},
                "text": {"field": "label"}
              }
            }
          ]
        },
        {
          "spacing": 0,
          "bounds": "flush",
          "resolve": {"scale": {"color": "independent", "strokeDash": "independent"}, "legend": {"color": "independent", "strokeDash": "independent"}},
          "hconcat": [
            {
              "width": 243, "height": 215,
              "title": {"text": "(d)", "dx": -97, "dy": -1},
              "layer": [
                {
                  "data": {"name": "dl"},
                  "transform": [{"filter": "datum.s === 'exp'"}],
                  "mark": {"type": "area", "color": "#ff0000", "opacity": 0.25},
                  "encoding": {
                    "x": {"field": "t", "type": "quantitative", "scale": {"domain": [90, 190], "nice": false, "zero": false}, "axis": {"values": [100, 120, 140, 160, 180], "format": "d", "title": "Time (fs)", "titlePadding": 8}},
                    "y": {"field": "lo", "type": "quantitative", "scale": {"domain": [17, 27], "nice": false, "zero": false}, "axis": {"values": [18, 20, 22, 24, 26], "format": "d", "title": "CET (nJ/cm²)"}},
                    "y2": {"field": "hi"}
                  }
                },
                {
                  "data": {"values": [{"t": 95.5}, {"t": 108.3}, {"t": 121.6}, {"t": 135.2}, {"t": 149.7}, {"t": 164.9}, {"t": 180.0}]},
                  "mark": {"type": "rule", "color": "#000000", "strokeWidth": 1.8},
                  "encoding": {"x": {"field": "t", "type": "quantitative"}}
                },
                {
                  "data": {"name": "dl"},
                  "mark": {"type": "line", "strokeWidth": 2, "clip": true},
                  "encoding": {
                    "x": {"field": "t", "type": "quantitative"},
                    "y": {"field": "v", "type": "quantitative"},
                    "color": {"field": "s", "type": "nominal", "scale": {"domain": ["exp", "mexp", "mab"], "range": ["#ff0000", "#0000ff", "#0000ff"]}, "legend": null},
                    "strokeDash": {"field": "s", "type": "nominal", "scale": {"domain": ["exp", "mexp", "mab"], "range": [[1, 0], [1, 0], [6, 3]]}, "legend": null}
                  }
                },
                {
                  "data": {"values": [{"x1": 166, "x2": 178.7, "y": 19.55}]},
                  "mark": {"type": "rule", "color": "#000000", "strokeWidth": 2.5},
                  "encoding": {
                    "x": {"field": "x1", "type": "quantitative"}, "x2": {"field": "x2"},
                    "y": {"field": "y", "type": "quantitative"}
                  }
                },
                {
                  "data": {"values": [{"t": 167.2, "y": 19.55}]},
                  "mark": {"type": "point", "shape": "triangle-left", "filled": true, "color": "#000000", "size": 70, "opacity": 1},
                  "encoding": {"x": {"field": "t", "type": "quantitative"}, "y": {"field": "y", "type": "quantitative"}}
                },
                {
                  "data": {"values": [{"t": 177.5, "y": 19.55}]},
                  "mark": {"type": "point", "shape": "triangle-right", "filled": true, "color": "#000000", "size": 70, "opacity": 1},
                  "encoding": {"x": {"field": "t", "type": "quantitative"}, "y": {"field": "y", "type": "quantitative"}}
                },
                {
                  "data": {"values": [{"t": 171.8, "y": 18.77, "label": "½T"}]},
                  "mark": {"type": "text", "fontSize": 20, "color": "#000000", "align": "center", "baseline": "middle"},
                  "encoding": {"x": {"field": "t", "type": "quantitative"}, "y": {"field": "y", "type": "quantitative"}, "text": {"field": "label"}}
                },
                {
                  "data": {"values": [{"t": 95.3, "y": 26.0, "label": "(i)"}]},
                  "mark": {"type": "text", "fontSize": 20, "fontWeight": "bold", "color": "#000000", "align": "left", "baseline": "middle"},
                  "encoding": {"x": {"field": "t", "type": "quantitative"}, "y": {"field": "y", "type": "quantitative"}, "text": {"field": "label"}}
                }
              ]
            },
            {
              "width": 243, "height": 215,
              "layer": [
                {
                  "data": {"name": "dr"},
                  "transform": [{"filter": "datum.s === 'exp'"}],
                  "mark": {"type": "area", "color": "#ff0000", "opacity": 0.25},
                  "encoding": {
                    "x": {"field": "t", "type": "quantitative", "scale": {"domain": [530, 690], "nice": false, "zero": false}, "axis": {"values": [550, 600, 650], "format": "d", "title": "Time (fs)", "titlePadding": 8}},
                    "y": {"field": "lo", "type": "quantitative", "scale": {"domain": [26, 34], "nice": false, "zero": false}, "axis": {"orient": "right", "values": [26, 28, 30, 32, 34], "format": "d", "title": null}},
                    "y2": {"field": "hi"}
                  }
                },
                {
                  "data": {"values": [{"t": 536.8}, {"t": 554.2}, {"t": 571.2}, {"t": 588.1}, {"t": 606.3}, {"t": 624.2}, {"t": 641.5}, {"t": 657.3}, {"t": 673.8}]},
                  "mark": {"type": "rule", "color": "#000000", "strokeWidth": 1.8},
                  "encoding": {"x": {"field": "t", "type": "quantitative"}}
                },
                {
                  "data": {"name": "dr"},
                  "mark": {"type": "line", "strokeWidth": 2, "clip": true},
                  "encoding": {
                    "x": {"field": "t", "type": "quantitative"},
                    "y": {"field": "v", "type": "quantitative"},
                    "color": {"field": "s", "type": "nominal", "scale": {"domain": ["exp", "mexp", "mab"], "range": ["#ff0000", "#0000ff", "#0000ff"]}, "legend": null},
                    "strokeDash": {"field": "s", "type": "nominal", "scale": {"domain": ["exp", "mexp", "mab"], "range": [[1, 0], [1, 0], [6, 3]]}, "legend": null}
                  }
                },
                {
                  "data": {"values": [{"t": 685.5, "y": 33.2, "label": "(ii)"}]},
                  "mark": {"type": "text", "fontSize": 20, "fontWeight": "bold", "color": "#000000", "align": "right", "baseline": "middle"},
                  "encoding": {"x": {"field": "t", "type": "quantitative"}, "y": {"field": "y", "type": "quantitative"}, "text": {"field": "label"}}
                }
              ]
            }
          ]
        }
      ]
    }
  ]
}
